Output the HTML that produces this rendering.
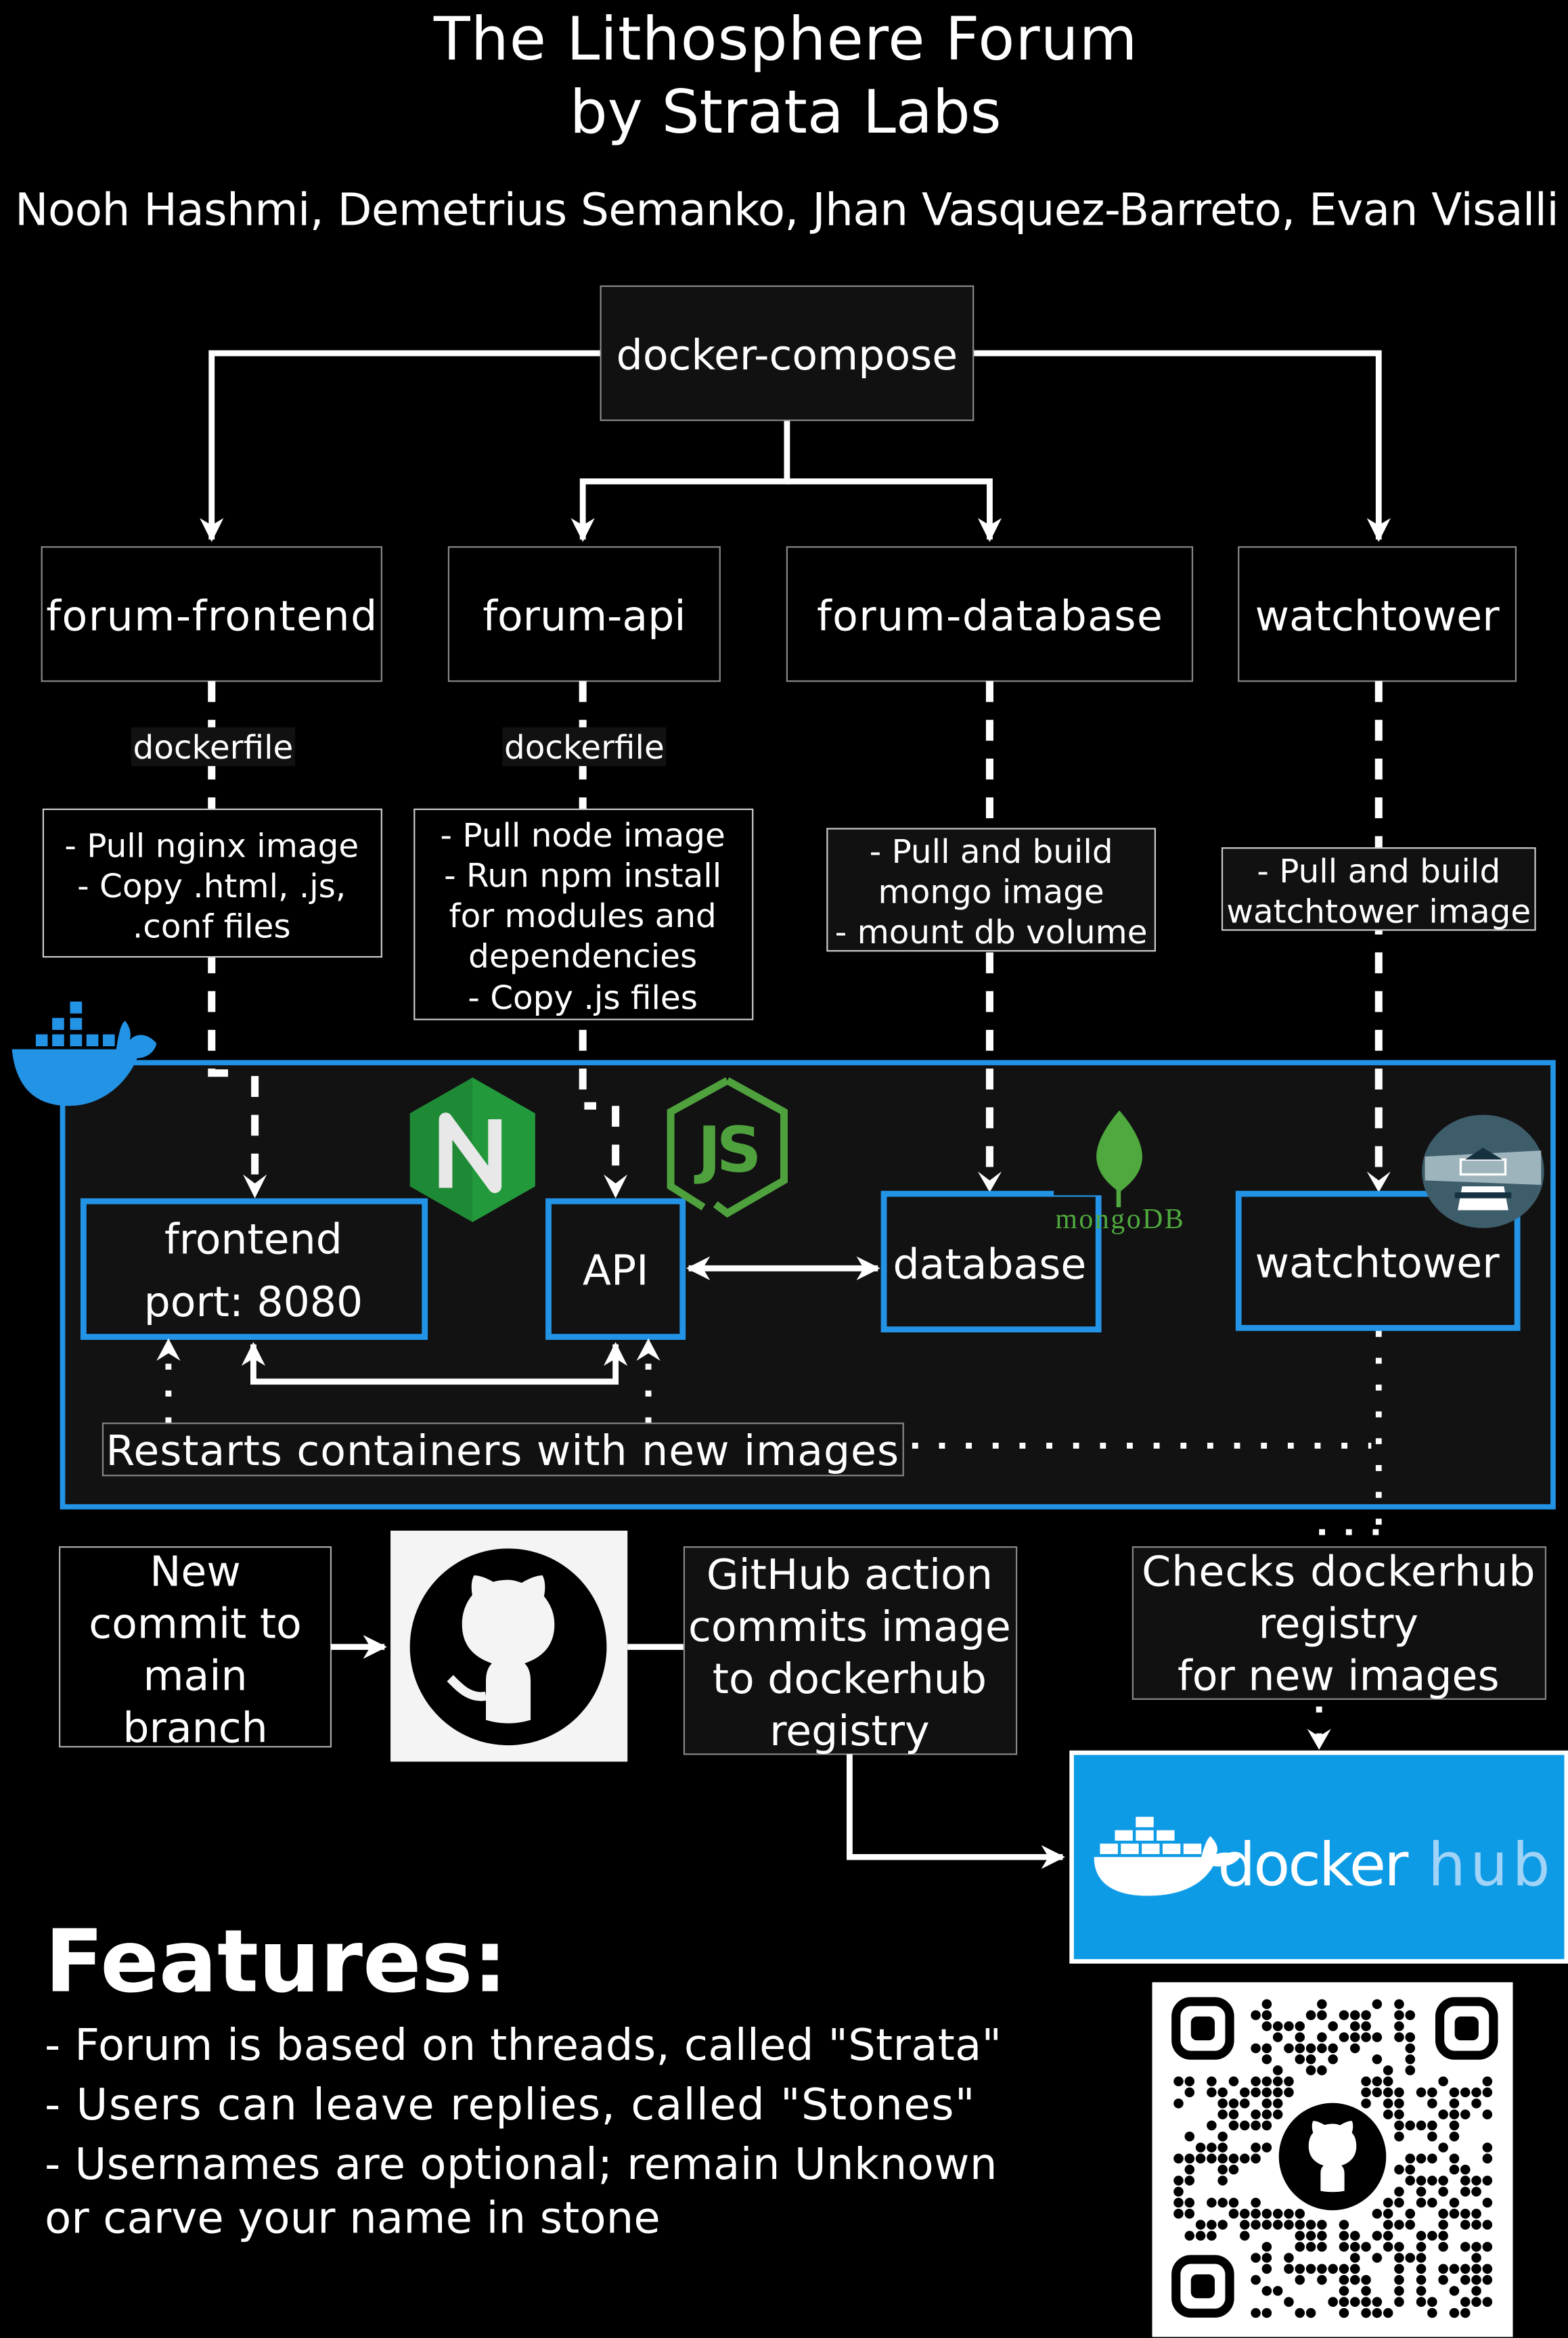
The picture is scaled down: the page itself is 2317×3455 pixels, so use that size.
<!DOCTYPE html>
<html><head><meta charset="utf-8"><style>
html,body{margin:0;padding:0;background:#000;}
svg{display:block;}
text{font-family:"DejaVu Sans","Liberation Sans",sans-serif;fill:#fff;}
</style></head><body>
<svg width="2317" height="3455" viewBox="0 0 1052 1568.7" xmlns="http://www.w3.org/2000/svg">
<defs>
<marker id="ah" viewBox="0 0 10 10" refX="9" refY="5" markerWidth="4" markerHeight="4" orient="auto-start-reverse"><path d="M0,0 L10,5 L0,10 L3,5 Z" fill="#fff"/></marker>
</defs>
<rect width="1052" height="1568.7" fill="#000"/>
<text x="527" y="40" font-size="40" text-anchor="middle" textLength="472">The Lithosphere Forum</text>
<text x="527" y="89" font-size="40" text-anchor="middle">by Strata Labs</text>
<text x="10" y="151" font-size="30" textLength="1036">Nooh Hashmi, Demetrius Semanko, Jhan Vasquez-Barreto, Evan Visalli</text>

<!-- docker-compose tree -->
<g stroke="#fff" stroke-width="4" fill="none">
<path d="M403,237 H142 V362" marker-end="url(#ah)"/>
<path d="M653,237 H925 V362" marker-end="url(#ah)"/>
<path d="M528,282 V323 H391 V362" marker-end="url(#ah)"/>
<path d="M528,323 H664 V362" marker-end="url(#ah)"/>
</g>
<rect x="403" y="192" width="250" height="90" fill="#111" stroke="#888" stroke-width="1"/>
<text x="528" y="248" font-size="28" text-anchor="middle">docker-compose</text>

<g fill="#000" stroke="#888" stroke-width="1">
<rect x="28" y="367" width="228" height="90"/>
<rect x="301" y="367" width="182" height="90"/>
<rect x="528" y="367" width="272" height="90"/>
<rect x="831" y="367" width="186" height="90"/>
</g>
<g font-size="28" text-anchor="middle">
<text x="142" y="423" textLength="222">forum-frontend</text>
<text x="392" y="423">forum-api</text>
<text x="664" y="423" textLength="232">forum-database</text>
<text x="924" y="423">watchtower</text>
</g>

<!-- big docker box -->
<rect x="42" y="713" width="1000" height="298" fill="#121212" stroke="#2393e6" stroke-width="3.5"/>

<!-- dashed lines -->
<g stroke="#fff" stroke-width="5" fill="none" stroke-dasharray="14,12">
<path d="M142,457 V720 H160"/>
<path d="M171,722 V796"/>
<path d="M391,457 V742 H400"/>
<path d="M413,742 V796"/>
<path d="M664,457 V792"/>
<path d="M925,457 V792"/>
</g>
<g fill="#fff">
<path d="M163,788 L171,804 L179,788 L171,794Z"/>
<path d="M405,788 L413,804 L421,788 L413,794Z"/>
<path d="M656,786 L664,800 L672,786 L664,792Z"/>
<path d="M917,786 L925,800 L933,786 L925,792Z"/>
</g>

<rect x="88" y="488" width="110" height="26" fill="#111"/>
<text x="143" y="509" font-size="22" text-anchor="middle">dockerfile</text>
<rect x="337" y="488" width="110" height="26" fill="#111"/>
<text x="392" y="509" font-size="22" text-anchor="middle">dockerfile</text>

<g fill="#000" stroke="#ccc" stroke-width="1">
<rect x="29" y="543" width="227" height="99"/>
<rect x="278" y="543" width="227" height="141"/>
<rect x="555" y="556" width="220" height="82" fill="#111"/>
<rect x="820" y="569" width="210" height="55" fill="#111"/>
</g>
<g font-size="22" text-anchor="middle">
<text x="142" y="575">- Pull nginx image</text>
<text x="142" y="602">- Copy .html, .js,</text>
<text x="142" y="629">.conf files</text>
<text x="391" y="568">- Pull node image</text>
<text x="391" y="595">- Run npm install</text>
<text x="391" y="622">for modules and</text>
<text x="391" y="649">dependencies</text>
<text x="391" y="677">- Copy .js files</text>
<text x="665" y="579">- Pull and build</text>
<text x="665" y="606">mongo image</text>
<text x="665" y="633">- mount db volume</text>
<text x="925" y="592">- Pull and build</text>
<text x="925" y="619">watchtower image</text>
</g>

<!-- docker whale -->
<g fill="#2393e6">
<rect x="47" y="672" width="8" height="8"/>
<rect x="35" y="683" width="8" height="8"/><rect x="47" y="683" width="8" height="8"/>
<rect x="24" y="694" width="8" height="8"/><rect x="35" y="694" width="8" height="8"/><rect x="47" y="694" width="8" height="8"/><rect x="58" y="694" width="8" height="8"/><rect x="69" y="694" width="8" height="8"/>
<path d="M8,704 H78 C80,690 82,686 84,685 C88,690 88,695 87,698 C92,692 100,694 105,700 C104,706 98,710 92,710 C86,725 70,742 46,742 C20,742 10,725 8,704Z"/>
</g>

<!-- containers -->
<g fill="#121212" stroke="#2393e6" stroke-width="4">
<rect x="56" y="806" width="229" height="91"/>
<rect x="368" y="806" width="90" height="91"/>
<rect x="593" y="801" width="144" height="91"/>
<rect x="831" y="801" width="187" height="90"/>
</g>
<rect x="707" y="790" width="40" height="12" fill="#121212"/>
<g font-size="28" text-anchor="middle">
<text x="170" y="841">frontend</text>
<text x="170" y="883">port: 8080</text>
<text x="413" y="862">API</text>
<text x="664" y="858">database</text>
<text x="924" y="857">watchtower</text>
</g>
<!-- nginx -->
<path d="M317,723 L359,747 L359,796 L317,820 L275,796 L275,747Z" fill="#1f8a36"/>
<path d="M317,723 L359,747 L359,796 L317,820Z" fill="#229a3b"/>
<path d="M299,797 V751 L332,796 V751" stroke="#e8e8e8" stroke-width="9" fill="none" stroke-linejoin="round"/>
<!-- nodejs -->
<path d="M488,725 L526,746 L526,792 L488,814 L480,808" stroke="#4fa13e" stroke-width="5" fill="none"/>
<path d="M472,810 L450,796 L450,746 L488,725" stroke="#4fa13e" stroke-width="5" fill="none"/>
<text x="488" y="786" font-size="42" font-weight="bold" text-anchor="middle" style="fill:#4fa13e" letter-spacing="-3">JS</text>
<!-- mongo -->
<path d="M751,745 C740,758 734,770 736,780 C738,790 746,796 751,800 C756,796 764,790 766,780 C768,770 762,758 751,745Z" fill="#4fa93e"/>
<rect x="749" y="798" width="3" height="12" fill="#4fa93e"/>
<text x="751" y="824" font-size="19" text-anchor="middle" textLength="86" style="fill:#4fa93e;font-family:'Liberation Serif',serif">mongoDB</text>
<!-- watchtower logo -->
<ellipse cx="995" cy="786" rx="41" ry="38" fill="#3e5d6b"/>
<path d="M956,776 L1034,772 L1034,795 L956,792Z" fill="#a9bec7" opacity="0.9"/>
<rect x="980" y="778" width="30" height="10" fill="none" stroke="#fff" stroke-width="1.5"/>
<path d="M978,812 L1012,812 L1009,796 L981,796Z" fill="#fff"/>
<rect x="976" y="800" width="38" height="4" fill="#163241"/>
<path d="M983,778 L995,770 L1008,778Z" fill="#163241"/>

<!-- arrows -->
<path d="M462,851 H589" stroke="#fff" stroke-width="4" marker-start="url(#ah)" marker-end="url(#ah)"/>
<path d="M170,902 V927 H413 V902" stroke="#fff" stroke-width="4" fill="none" marker-start="url(#ah)" marker-end="url(#ah)"/>
<g stroke="#fff" stroke-width="4" fill="none" stroke-dasharray="4,14">
<path d="M113,955 V912"/>
<path d="M435,955 V912"/>
<path d="M612,970 H920"/>
<path d="M925,893 V1030"/>
<path d="M885,1028 H925"/>
<path d="M885,1145 V1168"/>
</g>
<g fill="#fff">
<path d="M105,913 L113,898 L121,913 L113,908Z"/>
<path d="M427,913 L435,898 L443,913 L435,908Z"/>
<path d="M877,1160 L885,1174 L893,1160 L885,1165Z"/>
</g>
<rect x="69" y="955" width="537" height="35" fill="#111" stroke="#888" stroke-width="1"/>
<text x="337" y="983" font-size="28" text-anchor="middle" textLength="532">Restarts containers with new images</text>

<!-- bottom flow -->
<rect x="40" y="1038" width="182" height="134" fill="#000" stroke="#aaa" stroke-width="1"/>
<g font-size="28" text-anchor="middle">
<text x="131" y="1064">New</text>
<text x="131" y="1099">commit to</text>
<text x="131" y="1134">main</text>
<text x="131" y="1169">branch</text>
</g>
<path d="M222,1105 H258" stroke="#fff" stroke-width="4" marker-end="url(#ah)"/>
<rect x="262" y="1027" width="159" height="155" fill="#f4f4f4"/>
<circle cx="341" cy="1105" r="66" fill="#000"/>
<path d="M341,1060 C322,1060 310,1073 310,1090 C310,1104 318,1112 330,1116 C327,1119 326,1123 326,1128 V1154 C335,1157 347,1157 356,1154 V1128 C356,1123 355,1119 352,1116 C364,1112 372,1104 372,1090 C372,1082 369,1076 365,1071 C366,1066 366,1061 364,1057 C360,1057 355,1059 350,1062 C347,1061 344,1060 341,1060 C338,1060 335,1061 332,1062 C327,1059 322,1057 318,1057 C316,1061 316,1066 317,1071 C313,1076 310,1082 310,1090Z" fill="#f4f4f4"/>
<path d="M326,1138 C315,1140 308,1132 302,1126" stroke="#f4f4f4" stroke-width="6" fill="none"/>
<path d="M421,1105 H459" stroke="#fff" stroke-width="4"/>
<rect x="459" y="1038" width="223" height="139" fill="#111" stroke="#888" stroke-width="1"/>
<g font-size="28" text-anchor="middle">
<text x="570" y="1066">GitHub action</text>
<text x="570" y="1101">commits image</text>
<text x="570" y="1136">to dockerhub</text>
<text x="570" y="1171">registry</text>
</g>
<path d="M570,1177 V1246 H713" stroke="#fff" stroke-width="4" fill="none" marker-end="url(#ah)"/>
<rect x="760" y="1038" width="277" height="102" fill="#111" stroke="#888" stroke-width="1"/>
<g font-size="28" text-anchor="middle">
<text x="898" y="1064" textLength="264">Checks dockerhub</text>
<text x="898" y="1099">registry</text>
<text x="898" y="1134">for new images</text>
</g>
<!-- dockerhub -->
<rect x="719" y="1176" width="332" height="140" fill="#0e9be6" stroke="#fff" stroke-width="3"/>
<g fill="#fff">
<rect x="762" y="1219" width="12" height="7"/>
<rect x="748" y="1228" width="12" height="7"/><rect x="762" y="1228" width="12" height="7"/><rect x="776" y="1228" width="12" height="7"/>
<rect x="738" y="1237" width="12" height="7"/><rect x="752" y="1237" width="12" height="7"/><rect x="766" y="1237" width="12" height="7"/><rect x="780" y="1237" width="12" height="7"/><rect x="794" y="1237" width="12" height="7"/>
<path d="M734,1246 H806 C808,1238 810,1234 812,1232 C816,1236 818,1240 816,1244 C822,1242 828,1243 832,1246 C828,1252 820,1253 814,1252 C806,1266 790,1272 770,1272 C748,1272 734,1264 734,1246Z"/>
</g>
<text x="817" y="1265" font-size="40" textLength="128">docker</text>
<text x="958" y="1265" font-size="40" textLength="82" style="fill:#9fd3f7">hub</text>

<!-- features -->
<text x="30" y="1336" font-size="58" font-weight="bold">Features:</text>
<g font-size="29">
<text x="30" y="1382" textLength="642">- Forum is based on threads, called "Strata"</text>
<text x="30" y="1422" textLength="624">- Users can leave replies, called "Stones"</text>
<text x="30" y="1462" textLength="639">- Usernames are optional; remain Unknown</text>
<text x="30" y="1498" textLength="413">or carve your name in stone</text>
</g>

<!-- QR -->
<rect x="773" y="1330" width="242" height="238" fill="#fff"/>
<g id="qr"></g>
<g fill="none" stroke="#000" stroke-width="6">
<rect x="789" y="1343" width="36" height="36" rx="10"/>
<rect x="966" y="1343" width="36" height="36" rx="10"/>
<rect x="789" y="1516" width="36" height="36" rx="10"/>
</g>
<g fill="#000">
<rect x="799" y="1353" width="16" height="16" rx="4"/>
<rect x="976" y="1353" width="16" height="16" rx="4"/>
<rect x="799" y="1526" width="16" height="16" rx="4"/>
</g>
<circle cx="894" cy="1447" r="36" fill="#000"/>
<path d="M894,1425 C884,1425 878,1432 878,1440 C878,1447 882,1451 888,1453 C886,1455 886,1457 886,1459 V1470 C891,1471 897,1471 902,1470 V1459 C902,1457 902,1455 900,1453 C906,1451 910,1447 910,1440 C910,1436 909,1433 907,1431 C908,1428 908,1425 907,1423 C905,1423 902,1424 899,1426 C897,1425 895,1425 894,1425 C893,1425 891,1425 889,1426 C886,1424 883,1423 881,1423 C880,1425 880,1428 881,1431 C879,1433 878,1436 878,1440Z" fill="#fff"/>
</svg>
<script>
(function(){
var g=document.getElementById('qr');var ns='http://www.w3.org/2000/svg';var s=12345;
function r(){s=(s*1103515245+12345)%2147483648;return s/2147483648;}
var cell=7.4;var x0=787,y0=1341;
for(var i=0;i<29;i++)for(var j=0;j<29;j++){
 var inF=(i<7&&j<7)||(i>21&&j<7)||(i<7&&j>21);
 var cx=x0+j*cell+cell/2, cy=y0+i*cell+cell/2;
 if(inF) continue;
 if(Math.hypot(cx-894,cy-1447)<42) continue;
 if(r()<0.5){var c=document.createElementNS(ns,'circle');c.setAttribute('cx',cx);c.setAttribute('cy',cy);c.setAttribute('r',3.3);c.setAttribute('fill','#000');g.appendChild(c);}
}})();
</script>
</body></html>
